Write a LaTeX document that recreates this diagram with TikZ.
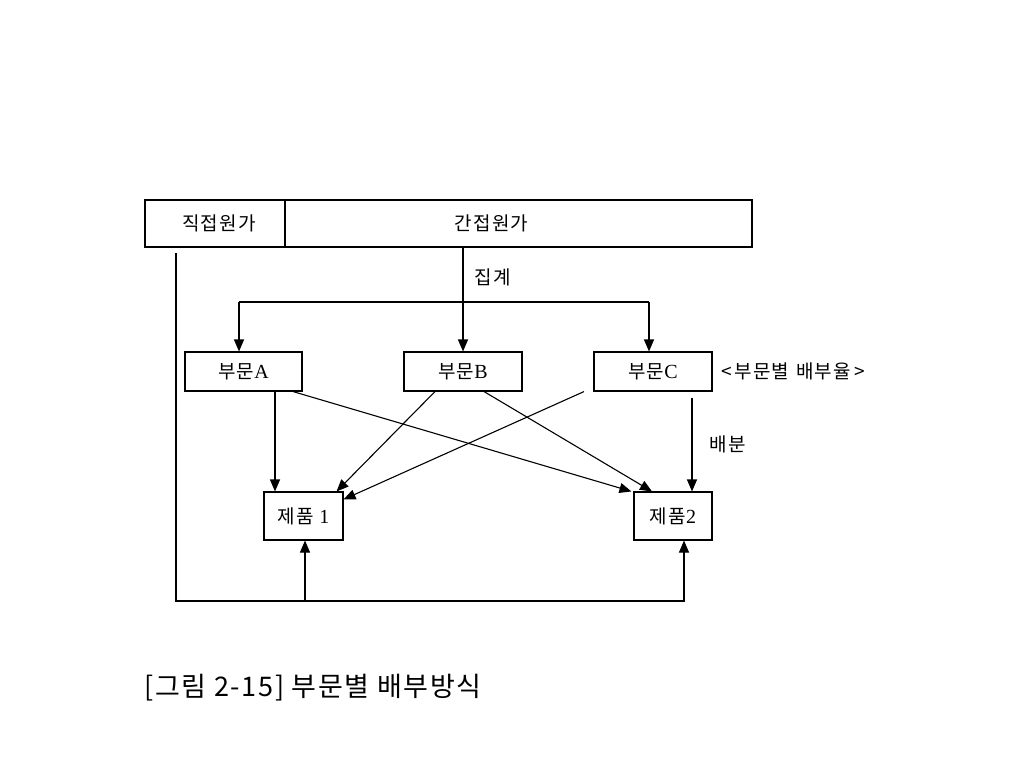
\documentclass[tikz,border=0pt]{standalone}
\usepackage{fontspec}
\setmainfont[LetterSpace=6]{Noto Sans CJK KR}
\newfontfamily\latin{Liberation Serif}
\usetikzlibrary{arrows.meta,positioning,calc}
\tikzstyle{arrow} = [line width=1.1pt,-{Triangle[length=12pt,width=10pt]}]
\tikzstyle{line} = [line width=1.1pt]
\tikzstyle{box} = [rectangle, draw, line width=1.1pt, inner sep=0pt, font=\fontsize{19}{21}\selectfont]
\tikzstyle{txt} = [font=\fontsize{19}{21}\selectfont]

\begin{document}
\begin{tikzpicture}[x=1pt,y=-1pt]
    \useasboundingbox (0,0) rectangle (1024,768);

    % Cost header
    \node[box, minimum width=140pt, minimum height=47pt] (direct) at (215,223.5) {\hspace{8pt}직접원가};
    \node[box, minimum width=467pt, minimum height=47pt] (indirect) at (518.5,223.5) {\hspace{-54pt}간접원가};

    % Departments
    \node[box, minimum width=117pt, minimum height=39pt] (partA) at (243.5,371.5) {부문{\latin\fontsize{20}{21}\selectfont A}};
    \node[box, minimum width=118pt, minimum height=39pt] (partB) at (463,371.5) {부문{\latin\fontsize{20}{21}\selectfont B}};
    \node[box, minimum width=118pt, minimum height=39pt] (partC) at (653,371.5) {부문{\latin\fontsize{20}{21}\selectfont C}};
    \node[txt, right=5pt of partC] (rate) {<\hspace{3pt}부문별\hspace{7pt}배부율\hspace{3pt}>};

    % Products
    \node[box, minimum width=79pt, minimum height=48pt] (prod1) at (303.5,516) {제품 {\latin\fontsize{20}{21}\selectfont 1}};
    \node[box, minimum width=78pt, minimum height=48pt] (prod2) at (673,516) {제품{\latin\fontsize{20}{21}\selectfont 2}};

    % Aggregation
    \coordinate (split) at (463,302);
    \draw[arrow] (indirect.south -| partB.north) -- node[txt, pos=0.29, right=8pt] (sum) {집계} (partB.north);
    \draw[line] ([xshift=-4.5pt]partA.north |- split) -- ([xshift=-4pt]partC.north |- split);
    \draw[arrow] ([xshift=-4.5pt]partA.north |- split) -- ([xshift=-4.5pt]partA.north);
    \draw[arrow] ([xshift=-4pt]partC.north |- split) -- ([xshift=-4pt]partC.north);

    % Allocation
    \draw[arrow] ([xshift=31.5pt]partA.south) -- ([xshift=-28.5pt]prod1.north);
    \draw[arrow] ([xshift=49.5pt]partA.south) -- ([xshift=-2pt]prod2.north west);
    \draw[arrow] ([xshift=-28pt]partB.south) -- ([xshift=-7pt]prod1.north east);
    \draw[arrow] ([xshift=21pt]partB.south) -- ([xshift=-21pt]prod2.north);
    \draw[arrow] ([xshift=-69pt]partC.south) -- ([yshift=-8pt]prod1.north east);
    \draw[arrow] ([xshift=39pt,yshift=-6pt]partC.south) -- node[txt, right=14pt] (alloc) {배분} ([xshift=19pt]prod2.north);

    % Direct costs
    \coordinate (d0) at (176,253);
    \coordinate (d1) at (176,601);
    \draw[arrow] (d0) -- (d1) -| ([xshift=11pt]prod2.south);
    \draw[arrow] ([xshift=1.5pt]prod1.south |- d1) -- ([xshift=1.5pt]prod1.south);

    % Caption
    \node[anchor=west, font=\fontsize{27}{30}\selectfont] (caption) at (141,688) {[그림 2-15] 부문별 배부방식};
\end{tikzpicture}
\end{document}
